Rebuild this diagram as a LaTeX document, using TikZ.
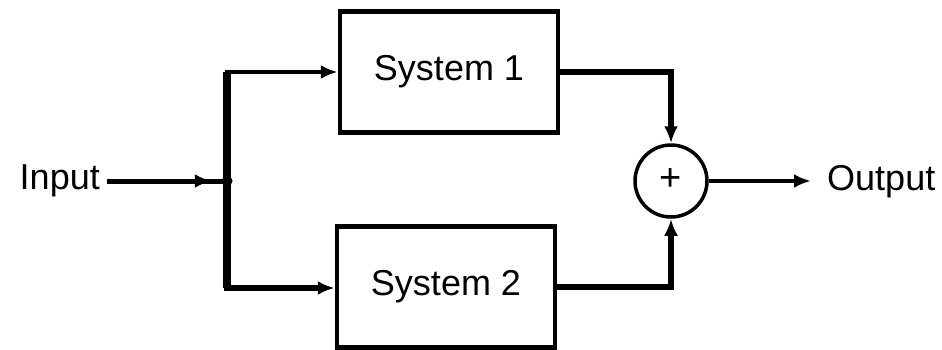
\documentclass[tikz,border=0pt]{standalone}
\usepackage{fontspec}
\setmainfont{Liberation Sans}
\usetikzlibrary{arrows.meta,decorations.markings}

\tikzset{
  sysbox/.style={draw, line width=4.5pt, minimum width=218pt, minimum height=121pt,
                 inner sep=0pt, font=\fontsize{36}{40}\selectfont},
  label/.style={inner sep=0pt, font=\fontsize{36}{40}\selectfont},
  sumnode/.style={draw, circle, line width=3.5pt, minimum size=72pt, inner sep=0pt,
                  font=\fontsize{38}{40}\selectfont},
  tip/.style={-{Latex[length=17pt,width=14pt]}},
  midtip/.style={decoration={markings,
      mark=at position #1 with {\arrow{Latex[length=17pt,width=14pt]}}},
      postaction={decorate}},
}

\begin{document}
\begin{tikzpicture}[x=1pt,y=-1pt]
  \useasboundingbox[fill=white] (0,0) rectangle (942,349);

  % blocks
  \node[sysbox] (s1) at (449,72)  {System 1};
  \node[sysbox] (s2) at (446,287) {System 2};
  \node[sumnode] (sum) at (671,181) {\raisebox{2pt}{+}};

  % terminals
  \node[label, anchor=east] (in)  at (100,181) {Input};
  \node[label, anchor=west] (out) at (827,182) {Output};

  % branch point
  \coordinate (j) at (227,181);
  \coordinate (jt) at (227,72);
  \coordinate (jb) at (227,288);
  \coordinate (ct) at (671,72);
  \coordinate (cb) at (671,287);

  % input line into the branch point
  \draw[line width=5pt, midtip=0.88, shorten <=7pt] (in.east) -- (j);
  \fill (j) circle (5.5pt);

  % split to both systems
  \draw[line width=8pt] (jt) -- (jb);
  \draw[line width=4.5pt, tip] ([xshift=-2pt]jt) -- (s1.west);
  \draw[line width=5.5pt, tip] ([xshift=-3pt]jb) -- (jb -| s2.west);

  % system outputs into the summer
  \draw[line width=6pt, tip] (s1.east) -- (ct) -- (sum.north);
  \draw[line width=5.5pt, tip] (s2.east) -- (cb) -- (sum.south);

  % sum to output
  \draw[line width=3.5pt, tip, shorten >=16pt] (sum.east) -- (out.west |- sum.east);
\end{tikzpicture}
\end{document}
